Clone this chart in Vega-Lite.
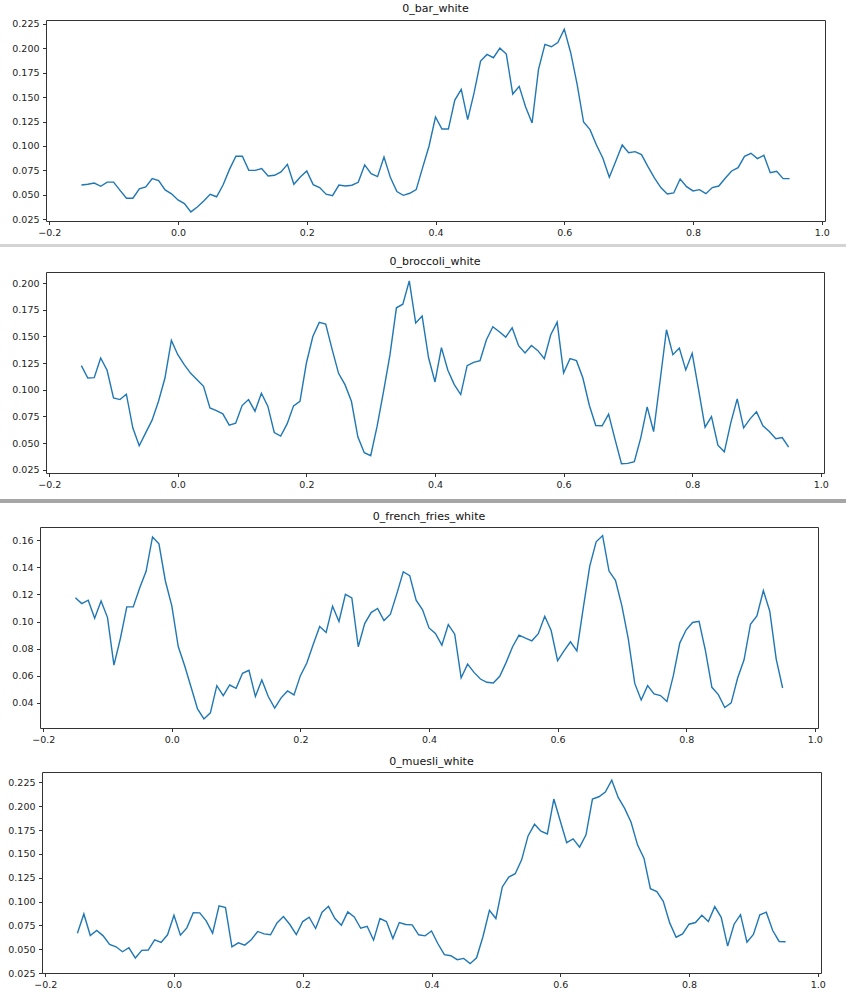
{
  "$schema": "https://vega.github.io/schema/vega-lite/v6.json",
  "padding": 0,
  "autosize": {"type": "pad"},
  "background": "white",
  "config": {
    "view": {"stroke": null},
    "axis": {"domain": false, "grid": false, "labelFont": "DejaVu Sans", "labelFontSize": 9.5, "labelColor": "#222", "tickColor": "#333", "tickSize": 3.5, "labelPadding": 3, "labelFlush": false, "labelOverlap": false},
    "title": {"font": "DejaVu Sans", "fontSize": 11, "fontWeight": "normal", "color": "#111", "offset": 4.7, "baseline": "alphabetic", "anchor": "middle", "frame": "group"}
  },
  "datasets": {
    "bar": [
      {"x":-0.15,"y":0.060},{"x":-0.14,"y":0.0608},{"x":-0.13,"y":0.062},{"x":-0.12,"y":0.0587},{"x":-0.11,"y":0.063},{"x":-0.10,"y":0.063},{"x":-0.09,"y":0.0546},{"x":-0.08,"y":0.0465},{"x":-0.07,"y":0.0465},{"x":-0.06,"y":0.056},
      {"x":-0.05,"y":0.058},{"x":-0.04,"y":0.0666},{"x":-0.03,"y":0.0645},{"x":-0.02,"y":0.055},{"x":-0.01,"y":0.051},{"x":0.00,"y":0.0448},{"x":0.01,"y":0.041},{"x":0.02,"y":0.0325},{"x":0.03,"y":0.0376},{"x":0.04,"y":0.0437},
      {"x":0.05,"y":0.0506},{"x":0.06,"y":0.048},{"x":0.07,"y":0.060},{"x":0.08,"y":0.076},{"x":0.09,"y":0.0894},{"x":0.10,"y":0.0894},{"x":0.11,"y":0.075},{"x":0.12,"y":0.075},{"x":0.13,"y":0.0768},{"x":0.14,"y":0.0693},
      {"x":0.15,"y":0.070},{"x":0.16,"y":0.0734},{"x":0.17,"y":0.0812},{"x":0.18,"y":0.0608},{"x":0.19,"y":0.0683},{"x":0.20,"y":0.0744},{"x":0.21,"y":0.0604},{"x":0.22,"y":0.0574},{"x":0.23,"y":0.0506},{"x":0.24,"y":0.0492},
      {"x":0.25,"y":0.060},{"x":0.26,"y":0.059},{"x":0.27,"y":0.0598},{"x":0.28,"y":0.0628},{"x":0.29,"y":0.0806},{"x":0.30,"y":0.0717},{"x":0.31,"y":0.0686},{"x":0.32,"y":0.0887},{"x":0.33,"y":0.0676},{"x":0.34,"y":0.0533},
      {"x":0.35,"y":0.0495},{"x":0.36,"y":0.0516},{"x":0.37,"y":0.0553},{"x":0.38,"y":0.0778},{"x":0.39,"y":0.100},{"x":0.40,"y":0.1296},{"x":0.41,"y":0.1173},{"x":0.42,"y":0.1173},{"x":0.43,"y":0.147},{"x":0.44,"y":0.158},
      {"x":0.45,"y":0.1269},{"x":0.46,"y":0.1545},{"x":0.47,"y":0.1868},{"x":0.48,"y":0.1937},{"x":0.49,"y":0.1903},{"x":0.50,"y":0.2001},{"x":0.51,"y":0.194},{"x":0.52,"y":0.1531},{"x":0.53,"y":0.161},{"x":0.54,"y":0.1398},
      {"x":0.55,"y":0.1235},{"x":0.56,"y":0.1783},{"x":0.57,"y":0.2039},{"x":0.58,"y":0.2015},{"x":0.59,"y":0.2059},{"x":0.60,"y":0.2195},{"x":0.61,"y":0.1954},{"x":0.62,"y":0.163},{"x":0.63,"y":0.1245},{"x":0.64,"y":0.1167},
      {"x":0.65,"y":0.101},{"x":0.66,"y":0.0874},{"x":0.67,"y":0.068},{"x":0.68,"y":0.0843},{"x":0.69,"y":0.101},{"x":0.70,"y":0.0931},{"x":0.71,"y":0.0942},{"x":0.72,"y":0.0911},{"x":0.73,"y":0.0788},{"x":0.74,"y":0.0673},
      {"x":0.75,"y":0.0574},{"x":0.76,"y":0.0509},{"x":0.77,"y":0.0519},{"x":0.78,"y":0.0662},{"x":0.79,"y":0.0584},{"x":0.80,"y":0.054},{"x":0.81,"y":0.0553},{"x":0.82,"y":0.0512},{"x":0.83,"y":0.0574},{"x":0.84,"y":0.059},
      {"x":0.85,"y":0.067},{"x":0.86,"y":0.0744},{"x":0.87,"y":0.0778},{"x":0.88,"y":0.0894},{"x":0.89,"y":0.0925},{"x":0.90,"y":0.087},{"x":0.91,"y":0.0904},{"x":0.92,"y":0.0727},{"x":0.93,"y":0.0741},{"x":0.94,"y":0.0666},
      {"x":0.95,"y":0.0666}
    ],
    "broccoli": [
      {"x":-0.15,"y":0.1226},{"x":-0.14,"y":0.111},{"x":-0.13,"y":0.1114},{"x":-0.12,"y":0.1298},{"x":-0.11,"y":0.1183},{"x":-0.10,"y":0.0924},{"x":-0.09,"y":0.0908},{"x":-0.08,"y":0.0958},{"x":-0.07,"y":0.0643},{"x":-0.06,"y":0.0474},
      {"x":-0.05,"y":0.0596},{"x":-0.04,"y":0.0715},{"x":-0.03,"y":0.0892},{"x":-0.02,"y":0.111},{"x":-0.01,"y":0.1463},{"x":0.00,"y":0.1329},{"x":0.01,"y":0.1236},{"x":0.02,"y":0.1154},{"x":0.03,"y":0.1095},{"x":0.04,"y":0.1033},
      {"x":0.05,"y":0.083},{"x":0.06,"y":0.0805},{"x":0.07,"y":0.0774},{"x":0.08,"y":0.0668},{"x":0.09,"y":0.0686},{"x":0.10,"y":0.0852},{"x":0.11,"y":0.0908},{"x":0.12,"y":0.0799},{"x":0.13,"y":0.0967},{"x":0.14,"y":0.0846},
      {"x":0.15,"y":0.0599},{"x":0.16,"y":0.0565},{"x":0.17,"y":0.068},{"x":0.18,"y":0.0849},{"x":0.19,"y":0.0892},{"x":0.20,"y":0.1251},{"x":0.21,"y":0.150},{"x":0.22,"y":0.1632},{"x":0.23,"y":0.1616},{"x":0.24,"y":0.1379},
      {"x":0.25,"y":0.1154},{"x":0.26,"y":0.1048},{"x":0.27,"y":0.0892},{"x":0.28,"y":0.0559},{"x":0.29,"y":0.0409},{"x":0.30,"y":0.0381},{"x":0.31,"y":0.0658},{"x":0.32,"y":0.0986},{"x":0.33,"y":0.1329},{"x":0.34,"y":0.1769},
      {"x":0.35,"y":0.1803},{"x":0.36,"y":0.2022},{"x":0.37,"y":0.1626},{"x":0.38,"y":0.1691},{"x":0.39,"y":0.13},{"x":0.40,"y":0.1073},{"x":0.41,"y":0.1395},{"x":0.42,"y":0.1183},{"x":0.43,"y":0.1048},{"x":0.44,"y":0.0955},
      {"x":0.45,"y":0.1226},{"x":0.46,"y":0.1257},{"x":0.47,"y":0.1273},{"x":0.48,"y":0.147},{"x":0.49,"y":0.1591},{"x":0.50,"y":0.1544},{"x":0.51,"y":0.1494},{"x":0.52,"y":0.1582},{"x":0.53,"y":0.1413},{"x":0.54,"y":0.1345},
      {"x":0.55,"y":0.1416},{"x":0.56,"y":0.1367},{"x":0.57,"y":0.1292},{"x":0.58,"y":0.1516},{"x":0.59,"y":0.1635},{"x":0.60,"y":0.1158},{"x":0.61,"y":0.1292},{"x":0.62,"y":0.1273},{"x":0.63,"y":0.111},{"x":0.64,"y":0.0855},
      {"x":0.65,"y":0.0665},{"x":0.66,"y":0.0662},{"x":0.67,"y":0.0771},{"x":0.68,"y":0.0534},{"x":0.69,"y":0.0306},{"x":0.70,"y":0.0309},{"x":0.71,"y":0.0325},{"x":0.72,"y":0.0549},{"x":0.73,"y":0.0839},{"x":0.74,"y":0.0608},
      {"x":0.75,"y":0.108},{"x":0.76,"y":0.1563},{"x":0.77,"y":0.1329},{"x":0.78,"y":0.1392},{"x":0.79,"y":0.1186},{"x":0.80,"y":0.1342},{"x":0.81,"y":0.0998},{"x":0.82,"y":0.0649},{"x":0.83,"y":0.0749},{"x":0.84,"y":0.048},
      {"x":0.85,"y":0.0418},{"x":0.86,"y":0.069},{"x":0.87,"y":0.0914},{"x":0.88,"y":0.0643},{"x":0.89,"y":0.0727},{"x":0.90,"y":0.0793},{"x":0.91,"y":0.0662},{"x":0.92,"y":0.0608},{"x":0.93,"y":0.054},{"x":0.94,"y":0.0552},
      {"x":0.95,"y":0.0462}
    ],
    "fries": [
      {"x":-0.15,"y":0.1176},{"x":-0.14,"y":0.1132},{"x":-0.13,"y":0.1157},{"x":-0.12,"y":0.1024},{"x":-0.11,"y":0.1152},{"x":-0.10,"y":0.1029},{"x":-0.09,"y":0.0679},{"x":-0.08,"y":0.0875},{"x":-0.07,"y":0.1108},{"x":-0.06,"y":0.1108},
      {"x":-0.05,"y":0.1247},{"x":-0.04,"y":0.137},{"x":-0.03,"y":0.1624},{"x":-0.02,"y":0.1573},{"x":-0.01,"y":0.1299},{"x":0.00,"y":0.1115},{"x":0.01,"y":0.0816},{"x":0.02,"y":0.0674},{"x":0.03,"y":0.0515},{"x":0.04,"y":0.0356},
      {"x":0.05,"y":0.0282},{"x":0.06,"y":0.0327},{"x":0.07,"y":0.0527},{"x":0.08,"y":0.0454},{"x":0.09,"y":0.0532},{"x":0.10,"y":0.0508},{"x":0.11,"y":0.0618},{"x":0.12,"y":0.064},{"x":0.13,"y":0.0447},{"x":0.14,"y":0.0569},
      {"x":0.15,"y":0.0447},{"x":0.16,"y":0.0361},{"x":0.17,"y":0.0437},{"x":0.18,"y":0.0488},{"x":0.19,"y":0.0459},{"x":0.20,"y":0.0601},{"x":0.21,"y":0.0694},{"x":0.22,"y":0.0833},{"x":0.23,"y":0.0963},{"x":0.24,"y":0.0919},
      {"x":0.25,"y":0.1113},{"x":0.26,"y":0.100},{"x":0.27,"y":0.1201},{"x":0.28,"y":0.1174},{"x":0.29,"y":0.0814},{"x":0.30,"y":0.0985},{"x":0.31,"y":0.1066},{"x":0.32,"y":0.1096},{"x":0.33,"y":0.1007},{"x":0.34,"y":0.1054},
      {"x":0.35,"y":0.1206},{"x":0.36,"y":0.1367},{"x":0.37,"y":0.1338},{"x":0.38,"y":0.1157},{"x":0.39,"y":0.1086},{"x":0.40,"y":0.0953},{"x":0.41,"y":0.0912},{"x":0.42,"y":0.0826},{"x":0.43,"y":0.0978},{"x":0.44,"y":0.0907},
      {"x":0.45,"y":0.0584},{"x":0.46,"y":0.0686},{"x":0.47,"y":0.0625},{"x":0.48,"y":0.0576},{"x":0.49,"y":0.0552},{"x":0.50,"y":0.0547},{"x":0.51,"y":0.0596},{"x":0.52,"y":0.0699},{"x":0.53,"y":0.0814},{"x":0.54,"y":0.09},
      {"x":0.55,"y":0.0878},{"x":0.56,"y":0.0858},{"x":0.57,"y":0.091},{"x":0.58,"y":0.1039},{"x":0.59,"y":0.0934},{"x":0.60,"y":0.0711},{"x":0.61,"y":0.0784},{"x":0.62,"y":0.0851},{"x":0.63,"y":0.0784},{"x":0.64,"y":0.1103},
      {"x":0.65,"y":0.1409},{"x":0.66,"y":0.1588},{"x":0.67,"y":0.1634},{"x":0.68,"y":0.1372},{"x":0.69,"y":0.1304},{"x":0.70,"y":0.1115},{"x":0.71,"y":0.087},{"x":0.72,"y":0.0544},{"x":0.73,"y":0.0422},{"x":0.74,"y":0.0527},
      {"x":0.75,"y":0.0466},{"x":0.76,"y":0.0454},{"x":0.77,"y":0.041},{"x":0.78,"y":0.0601},{"x":0.79,"y":0.0841},{"x":0.80,"y":0.0939},{"x":0.81,"y":0.0993},{"x":0.82,"y":0.1002},{"x":0.83,"y":0.0784},{"x":0.84,"y":0.0515},
      {"x":0.85,"y":0.0461},{"x":0.86,"y":0.0366},{"x":0.87,"y":0.04},{"x":0.88,"y":0.0584},{"x":0.89,"y":0.0718},{"x":0.90,"y":0.098},{"x":0.91,"y":0.1042},{"x":0.92,"y":0.1228},{"x":0.93,"y":0.1076},{"x":0.94,"y":0.0723},
      {"x":0.95,"y":0.051}
    ],
    "muesli": [
      {"x":-0.15,"y":0.0668},{"x":-0.14,"y":0.087},{"x":-0.13,"y":0.0644},{"x":-0.12,"y":0.0696},{"x":-0.11,"y":0.064},{"x":-0.10,"y":0.055},{"x":-0.09,"y":0.0525},{"x":-0.08,"y":0.0473},{"x":-0.07,"y":0.0515},{"x":-0.06,"y":0.0407},
      {"x":-0.05,"y":0.0487},{"x":-0.04,"y":0.0491},{"x":-0.03,"y":0.0599},{"x":-0.02,"y":0.0571},{"x":-0.01,"y":0.0651},{"x":0.00,"y":0.0856},{"x":0.01,"y":0.0647},{"x":0.02,"y":0.0724},{"x":0.03,"y":0.0884},{"x":0.04,"y":0.0881},
      {"x":0.05,"y":0.0797},{"x":0.06,"y":0.0668},{"x":0.07,"y":0.0954},{"x":0.08,"y":0.0937},{"x":0.09,"y":0.0525},{"x":0.10,"y":0.0567},{"x":0.11,"y":0.0543},{"x":0.12,"y":0.0599},{"x":0.13,"y":0.0686},{"x":0.14,"y":0.0661},
      {"x":0.15,"y":0.0651},{"x":0.16,"y":0.0776},{"x":0.17,"y":0.0842},{"x":0.18,"y":0.0759},{"x":0.19,"y":0.0654},{"x":0.20,"y":0.079},{"x":0.21,"y":0.0835},{"x":0.22,"y":0.0717},{"x":0.23,"y":0.0888},{"x":0.24,"y":0.095},
      {"x":0.25,"y":0.0822},{"x":0.26,"y":0.0752},{"x":0.27,"y":0.0891},{"x":0.28,"y":0.0839},{"x":0.29,"y":0.072},{"x":0.30,"y":0.0741},{"x":0.31,"y":0.0595},{"x":0.32,"y":0.0822},{"x":0.33,"y":0.079},{"x":0.34,"y":0.0612},
      {"x":0.35,"y":0.078},{"x":0.36,"y":0.0759},{"x":0.37,"y":0.0755},{"x":0.38,"y":0.0651},{"x":0.39,"y":0.064},{"x":0.40,"y":0.0691},{"x":0.41,"y":0.0557},{"x":0.42,"y":0.0442},{"x":0.43,"y":0.0431},{"x":0.44,"y":0.039},
      {"x":0.45,"y":0.0403},{"x":0.46,"y":0.0348},{"x":0.47,"y":0.041},{"x":0.48,"y":0.0633},{"x":0.49,"y":0.0909},{"x":0.50,"y":0.0822},{"x":0.51,"y":0.1153},{"x":0.52,"y":0.1257},{"x":0.53,"y":0.1292},{"x":0.54,"y":0.1438},
      {"x":0.55,"y":0.1689},{"x":0.56,"y":0.1811},{"x":0.57,"y":0.1738},{"x":0.58,"y":0.171},{"x":0.59,"y":0.2076},{"x":0.60,"y":0.1846},{"x":0.61,"y":0.1619},{"x":0.62,"y":0.1658},{"x":0.63,"y":0.1571},{"x":0.64,"y":0.17},
      {"x":0.65,"y":0.2076},{"x":0.66,"y":0.21},{"x":0.67,"y":0.2149},{"x":0.68,"y":0.2274},{"x":0.69,"y":0.2093},{"x":0.70,"y":0.1978},{"x":0.71,"y":0.1832},{"x":0.72,"y":0.1595},{"x":0.73,"y":0.1456},{"x":0.74,"y":0.1135},
      {"x":0.75,"y":0.1104},{"x":0.76,"y":0.1003},{"x":0.77,"y":0.0776},{"x":0.78,"y":0.0626},{"x":0.79,"y":0.0661},{"x":0.80,"y":0.0762},{"x":0.81,"y":0.078},{"x":0.82,"y":0.0856},{"x":0.83,"y":0.079},{"x":0.84,"y":0.0947},
      {"x":0.85,"y":0.0835},{"x":0.86,"y":0.0532},{"x":0.87,"y":0.0762},{"x":0.88,"y":0.0863},{"x":0.89,"y":0.0574},{"x":0.90,"y":0.0654},{"x":0.91,"y":0.086},{"x":0.92,"y":0.0888},{"x":0.93,"y":0.0696},{"x":0.94,"y":0.0581},
      {"x":0.95,"y":0.0578}
    ]
  },
  "concat": [
    {"width": 1, "height": 1, "data": {"values": []}, "mark": "point", "view": {"stroke": null}},
    {"width": 846, "height": 2, "data": {"values": []}, "mark": "point", "view": {"stroke": null}},
    {"width": 1, "height": 1, "data": {"values": []}, "mark": "point", "view": {"stroke": null}},
    {
      "width": 779, "height": 201,
      "data": {"name": "bar"},
      "title": {"text": "0_bar_white"},
      "view": {"stroke": "#333", "strokeWidth": 1},
      "mark": {"type": "line", "color": "#1f77b4", "strokeWidth": 1.4},
      "encoding": {
        "x": {"field": "x", "type": "quantitative", "scale": {"domain": [-0.205, 1.005], "nice": false, "zero": false}, "axis": {"title": null, "values": [-0.2, 0, 0.2, 0.4, 0.6, 0.8, 1.0], "format": ".1f"}},
        "y": {"field": "y", "type": "quantitative", "scale": {"domain": [0.0232, 0.2289], "nice": false, "zero": false}, "axis": {"title": null, "values": [0.025, 0.05, 0.075, 0.1, 0.125, 0.15, 0.175, 0.2, 0.225], "format": ".3f", "labelPadding": 3.5, "minExtent": 45}}
      }
    },
    {"width": 1, "height": 1, "data": {"values": []}, "mark": "point", "view": {"stroke": null}},
    {"width": 846, "height": 6, "data": {"values": []}, "mark": "point", "view": {"stroke": null}},
    {"width": 1, "height": 1, "data": {"values": []}, "mark": "point", "view": {"stroke": null}},
    {"width": 846, "height": 3, "data": {"values": []}, "mark": "point", "view": {"stroke": null, "fill": "#d4d4d4"}},
    {"width": 1, "height": 1, "data": {"values": []}, "mark": "point", "view": {"stroke": null}},
    {"width": 846, "height": 8, "data": {"values": []}, "mark": "point", "view": {"stroke": null}},
    {"width": 1, "height": 1, "data": {"values": []}, "mark": "point", "view": {"stroke": null}},
    {
      "width": 778, "height": 201,
      "data": {"name": "broccoli"},
      "title": {"text": "0_broccoli_white"},
      "view": {"stroke": "#333", "strokeWidth": 1},
      "mark": {"type": "line", "color": "#1f77b4", "strokeWidth": 1.4},
      "encoding": {
        "x": {"field": "x", "type": "quantitative", "scale": {"domain": [-0.205, 1.005], "nice": false, "zero": false}, "axis": {"title": null, "values": [-0.2, 0, 0.2, 0.4, 0.6, 0.8, 1.0], "format": ".1f"}},
        "y": {"field": "y", "type": "quantitative", "scale": {"domain": [0.0219, 0.2105], "nice": false, "zero": false}, "axis": {"title": null, "values": [0.025, 0.05, 0.075, 0.1, 0.125, 0.15, 0.175, 0.2], "format": ".3f", "labelPadding": 3.5, "minExtent": 45}}
      }
    },
    {"width": 1, "height": 1, "data": {"values": []}, "mark": "point", "view": {"stroke": null}},
    {"width": 846, "height": 9, "data": {"values": []}, "mark": "point", "view": {"stroke": null}},
    {"width": 1, "height": 1, "data": {"values": []}, "mark": "point", "view": {"stroke": null}},
    {"width": 846, "height": 4, "data": {"values": []}, "mark": "point", "view": {"stroke": null, "fill": "#a6a6a6"}},
    {"width": 1, "height": 1, "data": {"values": []}, "mark": "point", "view": {"stroke": null}},
    {"width": 846, "height": 7, "data": {"values": []}, "mark": "point", "view": {"stroke": null}},
    {"width": 1, "height": 1, "data": {"values": []}, "mark": "point", "view": {"stroke": null}},
    {
      "width": 778, "height": 201,
      "data": {"name": "fries"},
      "title": {"text": "0_french_fries_white"},
      "view": {"stroke": "#333", "strokeWidth": 1},
      "mark": {"type": "line", "color": "#1f77b4", "strokeWidth": 1.4},
      "encoding": {
        "x": {"field": "x", "type": "quantitative", "scale": {"domain": [-0.205, 1.005], "nice": false, "zero": false}, "axis": {"title": null, "values": [-0.2, 0, 0.2, 0.4, 0.6, 0.8, 1.0], "format": ".1f"}},
        "y": {"field": "y", "type": "quantitative", "scale": {"domain": [0.0215, 0.1697], "nice": false, "zero": false}, "axis": {"title": null, "values": [0.04, 0.06, 0.08, 0.1, 0.12, 0.14, 0.16], "format": ".2f", "labelPadding": 3.5, "minExtent": 39}}
      }
    },
    {"width": 1, "height": 1, "data": {"values": []}, "mark": "point", "view": {"stroke": null}},
    {"width": 846, "height": 10, "data": {"values": []}, "mark": "point", "view": {"stroke": null}},
    {"width": 1, "height": 1, "data": {"values": []}, "mark": "point", "view": {"stroke": null}},
    {
      "width": 779, "height": 201,
      "data": {"name": "muesli"},
      "title": {"text": "0_muesli_white"},
      "view": {"stroke": "#333", "strokeWidth": 1},
      "mark": {"type": "line", "color": "#1f77b4", "strokeWidth": 1.4},
      "encoding": {
        "x": {"field": "x", "type": "quantitative", "scale": {"domain": [-0.205, 1.005], "nice": false, "zero": false}, "axis": {"title": null, "values": [-0.2, 0, 0.2, 0.4, 0.6, 0.8, 1.0], "format": ".1f"}},
        "y": {"field": "y", "type": "quantitative", "scale": {"domain": [0.025, 0.236], "nice": false, "zero": false}, "axis": {"title": null, "values": [0.025, 0.05, 0.075, 0.1, 0.125, 0.15, 0.175, 0.2, 0.225], "format": ".3f", "labelPadding": 3.5, "minExtent": 41}}
      }
    },
    {"width": 1, "height": 1, "data": {"values": []}, "mark": "point", "view": {"stroke": null}},
    {"width": 846, "height": 10, "data": {"values": []}, "mark": "point", "view": {"stroke": null}}
  ],
  "columns": 2,
  "align": "none",
  "spacing": {"row": 0, "column": -1},
  "bounds": "full"
}
